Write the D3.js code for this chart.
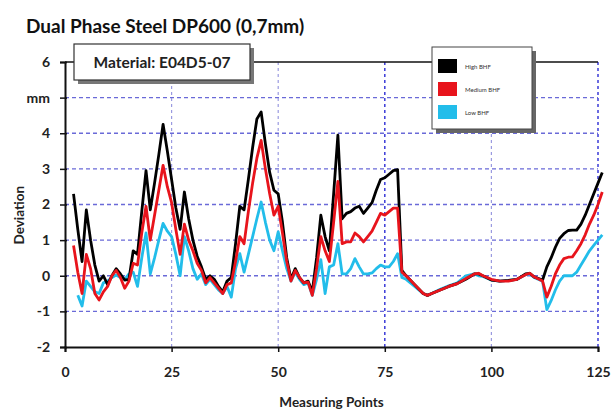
<!DOCTYPE html>
<html><head><meta charset="utf-8">
<script src="https://cdn.jsdelivr.net/npm/d3@7"></script>
<style>
html,body{margin:0;padding:0;background:#fff;}
svg{display:block;font-family:Lato,"Open Sans",sans-serif;}
</style></head>
<body>
<svg id="chart" width="612" height="412"></svg>
<script>
const title = "Dual Phase Steel DP600 (0,7mm)";
const materialLabel = "Material: E04D5-07";
const seriesNames = ["High BHF", "Medium BHF", "Low BHF"];
const seriesColors = ["#000000", "#e8141c", "#22bdea"];
const xTicks = [0, 25, 50, 75, 100, 125];
const yTicks = [-2, -1, 0, 1, 2, 3, 4, 5, 6];
const yTickLabels = ["-2", "-1", "0", "1", "2", "3", "4", "mm", "6"];

const points = [2,3,4,5,6,7,8,9,10,11,12,13,14,15,16,17,18,19,20,21,22,23,24,25,26,27,28,29,30,
  31,32,33,34,35,36,37,38,39,40,41,42,43,44,45,46,47,48,49,50,51,52,53,54,55,56,57,58,59,60,
  61,62,63,64,65,66,67,68,69,70,71,72,73,74,75,76,77,78,79,80,82,84,85,86,88,90,92,94,96,97,98,
  100,102,104,106,108,109,110,112,113,114,115,116,117,118,119,120,121,122,123,124,125,126];

const high = [2.3,1.3,0.4,1.85,1.0,0.3,-0.15,0.0,-0.25,0.0,0.2,0.05,-0.12,-0.1,0.7,0.6,1.8,2.95,1.85,2.6,3.4,4.25,3.5,2.7,1.9,1.3,2.35,1.6,1.0,
  0.55,0.25,-0.1,0.0,-0.1,-0.3,-0.45,-0.15,-0.05,0.9,1.95,1.85,2.7,3.6,4.4,4.6,3.7,2.9,2.4,2.3,1.5,0.5,-0.1,0.2,-0.05,-0.2,-0.15,-0.45,0.5,1.7,
  1.1,0.7,2.3,3.95,1.6,1.75,1.8,1.9,1.95,1.75,1.9,2.05,2.4,2.7,2.75,2.85,2.95,2.98,0.15,0.0,-0.25,-0.5,-0.55,-0.5,-0.4,-0.3,-0.22,-0.1,0.05,0.05,0.0,
  -0.12,-0.15,-0.13,-0.1,0.05,0.07,-0.03,-0.12,0.25,0.5,0.8,1.05,1.18,1.27,1.28,1.28,1.45,1.7,2.0,2.3,2.6,2.9];

const medium = [0.85,0.1,-0.5,0.6,0.2,-0.5,-0.68,-0.45,-0.3,0.0,0.15,-0.05,-0.35,-0.15,0.35,0.3,1.2,1.95,1.0,1.7,2.4,3.1,2.5,2.05,1.3,0.6,1.45,1.0,0.7,
  0.35,0.15,-0.2,-0.05,-0.2,-0.35,-0.5,-0.25,-0.2,0.4,1.1,0.9,1.8,2.6,3.3,3.8,3.0,2.3,1.7,1.95,1.2,0.4,-0.15,0.15,-0.05,-0.2,-0.18,-0.55,0.2,1.1,
  0.7,0.4,1.5,2.65,0.9,0.95,0.95,1.2,1.1,0.95,1.1,1.25,1.5,1.75,1.7,1.8,1.9,1.9,0.1,0.0,-0.25,-0.5,-0.55,-0.5,-0.4,-0.3,-0.22,-0.08,0.05,0.07,0.0,
  -0.1,-0.15,-0.15,-0.1,0.03,0.07,-0.03,-0.15,-0.6,-0.3,0.05,0.3,0.48,0.52,0.53,0.7,0.9,1.15,1.45,1.7,2.0,2.35];

const low = [null,-0.55,-0.85,-0.15,-0.3,-0.45,-0.5,-0.2,-0.15,-0.05,0.02,-0.05,-0.1,0.05,0.1,-0.3,0.5,1.2,0.05,0.5,1.0,1.47,1.25,1.1,0.6,0.0,1.1,0.7,0.2,
  -0.1,0.05,-0.25,-0.1,-0.25,-0.4,-0.5,-0.3,-0.6,0.2,0.62,0.1,0.6,1.1,1.6,2.07,1.5,1.0,0.7,1.23,0.7,0.2,-0.15,0.1,-0.1,-0.25,-0.2,-0.55,-0.1,0.45,
  -0.5,0.25,0.3,0.9,0.05,0.05,0.2,0.48,0.25,0.05,0.05,0.08,0.2,0.3,0.25,0.25,0.4,0.62,-0.05,-0.1,-0.3,-0.5,-0.55,-0.5,-0.38,-0.28,-0.2,0.0,0.05,0.0,-0.02,
  -0.12,-0.15,-0.13,-0.1,0.03,0.05,-0.05,-0.15,-0.95,-0.7,-0.4,-0.15,0.0,0.0,0.0,0.1,0.3,0.5,0.7,0.85,1.0,1.15];

const svg = d3.select("#chart");
const x = d3.scaleLinear().domain([0, 125]).range([65, 598]);
const y = d3.scaleLinear().domain([-2, 6]).range([347, 62]);

// title
svg.append("text").attr("x", 26).attr("y", 33).attr("font-size", 19).attr("font-weight", "bold")
  .attr("fill", "#111").text(title);

// grid
const gridColor = "#6a6ad8";
svg.append("g").selectAll("line").data([-1,0,1,2,3,4,5]).join("line")
  .attr("x1", x(0)).attr("x2", x(125)).attr("y1", d => y(d)).attr("y2", d => y(d))
  .attr("stroke", gridColor).attr("stroke-width", 1.3).attr("stroke-dasharray", "4,3");
svg.append("g").selectAll("line").data([25,50,75,100,125]).join("line")
  .attr("x1", d => x(d)).attr("x2", d => x(d)).attr("y1", y(6)).attr("y2", y(-2))
  .attr("stroke", d => (d === 75 || d === 125) ? "#3b3bd8" : "#9a9ae0")
  .attr("stroke-width", d => (d === 75 || d === 125) ? 1.5 : 1.2).attr("stroke-dasharray", "3,3");

// top border
svg.append("line").attr("x1", x(0)).attr("x2", x(125)).attr("y1", y(6)).attr("y2", y(6))
  .attr("stroke", "#111").attr("stroke-width", 1.5);

// axes
const yAxis = d3.axisLeft(y).tickValues(yTicks).tickSize(5).tickFormat(d => yTickLabels[yTicks.indexOf(d)]);
const gy = svg.append("g").attr("transform", `translate(${x(0)},0)`).call(yAxis);
gy.select(".domain").attr("stroke", "#111").attr("stroke-width", 2);
gy.selectAll(".tick line").attr("stroke", "#111").attr("stroke-width", 1.5).attr("x2", -5).attr("x1", 2);
gy.selectAll(".tick text").attr("font-size", 14).attr("font-weight", "bold").attr("fill", "#222")
  .attr("font-family", "Lato, sans-serif").attr("x", -15);

const xAxis = d3.axisBottom(x).tickValues(xTicks).tickSize(5).tickFormat(d3.format("d"));
const gx = svg.append("g").attr("transform", `translate(0,${y(-2)})`).call(xAxis);
gx.select(".domain").attr("stroke", "#111").attr("stroke-width", 2);
gx.selectAll(".tick line").attr("stroke", "#111").attr("stroke-width", 1.5);
gx.selectAll(".tick text").attr("font-size", 14).attr("font-weight", "bold").attr("fill", "#222")
  .attr("font-family", "Lato, sans-serif").attr("y", 20);

// axis titles
svg.append("text").attr("x", x(62.5)).attr("y", 407).attr("text-anchor", "middle")
  .attr("font-size", 13.5).attr("font-weight", "bold").attr("fill", "#222").text("Measuring Points");
svg.append("text").attr("transform", `translate(24,${y(1.7)}) rotate(-90)`).attr("text-anchor", "middle")
  .attr("font-size", 13.5).attr("font-weight", "bold").attr("fill", "#222").text("Deviation");

// lines
const seriesData = [high, medium, low];
const drawOrder = [2, 0, 1];
drawOrder.forEach(si => {
  const line = d3.line().defined((d, i) => seriesData[si][i] !== null)
    .x((d, i) => x(points[i])).y((d, i) => y(seriesData[si][i]));
  svg.append("path").datum(points).attr("d", line).attr("fill", "none")
    .attr("stroke", seriesColors[si]).attr("stroke-width", 2.8).attr("stroke-linejoin", "round");
});

// material box
svg.append("rect").attr("x", 78).attr("y", 48).attr("width", 176).attr("height", 36).attr("fill", "#777");
svg.append("rect").attr("x", 74).attr("y", 44).attr("width", 176).attr("height", 36).attr("fill", "#fff")
  .attr("stroke", "#333").attr("stroke-width", 1.2);
svg.append("text").attr("x", 162).attr("y", 68).attr("text-anchor", "middle").attr("font-size", 15.5)
  .attr("font-weight", "bold").attr("fill", "#222").text(materialLabel);

// legend
const lg = svg.append("g");
lg.append("rect").attr("x", 436).attr("y", 51).attr("width", 100).attr("height", 82).attr("fill", "#666");
lg.append("rect").attr("x", 432).attr("y", 47).attr("width", 100).attr("height", 82).attr("fill", "#fff")
  .attr("stroke", "#444").attr("stroke-width", 1);
seriesNames.forEach((name, i) => {
  lg.append("rect").attr("x", 438).attr("y", 59 + i * 23).attr("width", 19).attr("height", 14)
    .attr("fill", seriesColors[i]);
  lg.append("text").attr("x", 465).attr("y", 69 + i * 23).attr("font-size", 6).attr("fill", "#333")
    .text(name);
});
</script>
</body></html>
